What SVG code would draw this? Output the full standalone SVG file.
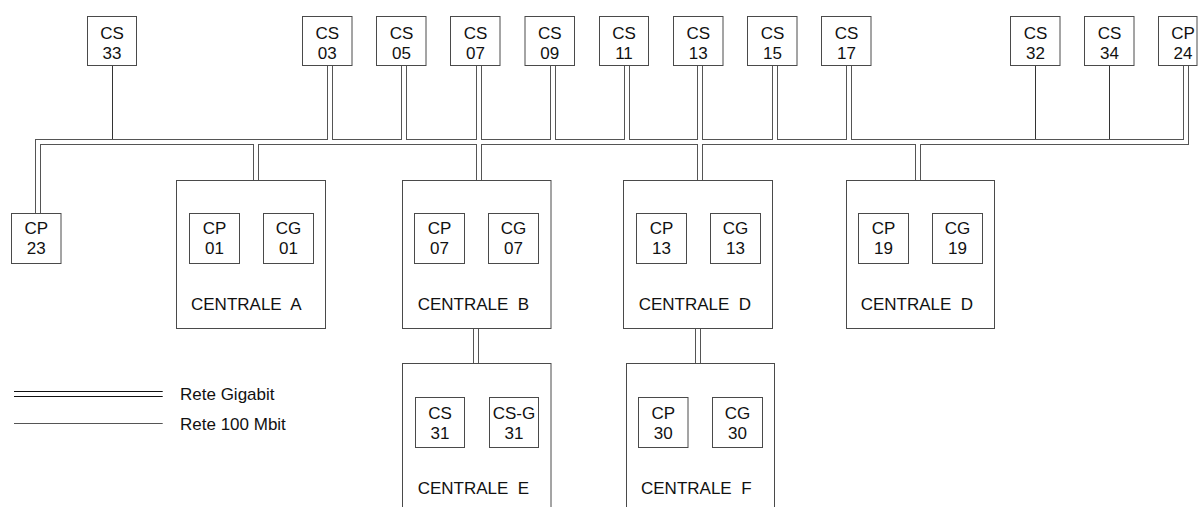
<svg xmlns="http://www.w3.org/2000/svg" width="1200" height="507" viewBox="0 0 1200 507">
<style>
  text { font-family: "Liberation Sans", Arial, sans-serif; font-size: 17px; fill: #111; }
  .c { text-anchor: middle; }
  .lbl { white-space: pre; }
  .box { fill: #fff; stroke: #4a4a4a; stroke-width: 1; }
  .gOut { fill: none; stroke: #555; stroke-width: 6; stroke-linejoin: miter; stroke-linecap: butt; }
  .gIn { fill: none; stroke: #fff; stroke-width: 4; stroke-linejoin: miter; stroke-linecap: butt; }
  .m100 { fill: none; stroke: #333; stroke-width: 1; }
</style>
<rect x="0" y="0" width="1200" height="507" fill="#fff"/>
<defs>
  <path id="gnet" d="M38,240 V142 H1186 V40 M330,40 V142 M404,40 V142 M479,40 V200 M553,40 V142 M627,40 V142 M700,40 V200 M775,40 V142 M849,40 V142 M256,142 V200 M918,142 V200 M476,300 V400 M698,300 V400"/>
</defs>
<g id="connectors">
  <path class="m100" d="M112.5,40 V142 M1035.5,40 V142 M1109.5,40 V142"/>
  <use href="#gnet" class="gOut"/>
  <use href="#gnet" class="gIn"/>
</g>
<g id="CS33"><rect class="box" x="87.5" y="16.5" width="49" height="49"/><text class="c" x="112" y="39">CS</text><text class="c" x="112" y="59.3">33</text></g>
<g id="CS03"><rect class="box" x="302.5" y="16.5" width="49.5" height="49"/><text class="c" x="327.3" y="39">CS</text><text class="c" x="327.3" y="59.3">03</text></g>
<g id="CS05"><rect class="box" x="376.5" y="16.5" width="49.5" height="49"/><text class="c" x="401.5" y="39">CS</text><text class="c" x="401.5" y="59.3">05</text></g>
<g id="CS07"><rect class="box" x="450.5" y="16.5" width="49.5" height="49"/><text class="c" x="475.5" y="39">CS</text><text class="c" x="475.5" y="59.3">07</text></g>
<g id="CS09"><rect class="box" x="525" y="16.5" width="49.5" height="49"/><text class="c" x="549.7" y="39">CS</text><text class="c" x="549.7" y="59.3">09</text></g>
<g id="CS11"><rect class="box" x="599.5" y="16.5" width="49" height="49"/><text class="c" x="624" y="39">CS</text><text class="c" x="624" y="59.3">11</text></g>
<g id="CS13"><rect class="box" x="673.5" y="16.5" width="49.5" height="49"/><text class="c" x="698.2" y="39">CS</text><text class="c" x="698.2" y="59.3">13</text></g>
<g id="CS15"><rect class="box" x="747.5" y="16.5" width="49.5" height="49"/><text class="c" x="772.5" y="39">CS</text><text class="c" x="772.5" y="59.3">15</text></g>
<g id="CS17"><rect class="box" x="821.5" y="16.5" width="49.5" height="49"/><text class="c" x="846.5" y="39">CS</text><text class="c" x="846.5" y="59.3">17</text></g>
<g id="CS32"><rect class="box" x="1010.5" y="16.5" width="49.5" height="49"/><text class="c" x="1035.5" y="39">CS</text><text class="c" x="1035.5" y="59.3">32</text></g>
<g id="CS34"><rect class="box" x="1084.5" y="16.5" width="49.5" height="49"/><text class="c" x="1109.5" y="39">CS</text><text class="c" x="1109.5" y="59.3">34</text></g>
<g id="CP24"><rect class="box" x="1158.5" y="16.5" width="38.5" height="49"/><text class="c" x="1183" y="39">CP</text><text class="c" x="1183" y="59.3">24</text></g>
<g id="CP23"><rect class="box" x="11.5" y="213.5" width="49.5" height="50"/><text class="c" x="36.3" y="234.3">CP</text><text class="c" x="36.3" y="254.3">23</text></g>
<g id="centrale-A">
  <rect class="box" x="176.5" y="180.5" width="149" height="148"/>
  <rect class="box" x="189.5" y="213.5" width="50" height="50"/><text class="c" x="214.5" y="234.3">CP</text><text class="c" x="214.5" y="254.3">01</text>
  <rect class="box" x="263.5" y="213.5" width="50" height="50"/><text class="c" x="288.5" y="234.3">CG</text><text class="c" x="288.5" y="254.3">01</text>
  <text class="lbl" x="191" y="310">CENTRALE  A</text>
</g>
<g id="centrale-B">
  <rect class="box" x="402.5" y="180.5" width="148.5" height="148"/>
  <rect class="box" x="414.5" y="213.5" width="50" height="50"/><text class="c" x="439.5" y="234.3">CP</text><text class="c" x="439.5" y="254.3">07</text>
  <rect class="box" x="488.5" y="213.5" width="50" height="50"/><text class="c" x="513.5" y="234.3">CG</text><text class="c" x="513.5" y="254.3">07</text>
  <text class="lbl" x="417.7" y="310">CENTRALE  B</text>
</g>
<g id="centrale-D1">
  <rect class="box" x="623.5" y="180.5" width="149" height="148"/>
  <rect class="box" x="636.5" y="213.5" width="50" height="50"/><text class="c" x="661.5" y="234.3">CP</text><text class="c" x="661.5" y="254.3">13</text>
  <rect class="box" x="710.5" y="213.5" width="50" height="50"/><text class="c" x="735.5" y="234.3">CG</text><text class="c" x="735.5" y="254.3">13</text>
  <text class="lbl" x="638.7" y="310">CENTRALE  D</text>
</g>
<g id="centrale-D2">
  <rect class="box" x="846.5" y="180.5" width="148" height="148"/>
  <rect class="box" x="858.5" y="213.5" width="50" height="50"/><text class="c" x="883.5" y="234.3">CP</text><text class="c" x="883.5" y="254.3">19</text>
  <rect class="box" x="932.5" y="213.5" width="50" height="50"/><text class="c" x="957.5" y="234.3">CG</text><text class="c" x="957.5" y="254.3">19</text>
  <text class="lbl" x="860.7" y="310">CENTRALE  D</text>
</g>
<g id="centrale-E">
  <rect class="box" x="402.5" y="363.5" width="148.5" height="150"/>
  <rect class="box" x="415.5" y="397.5" width="49" height="50"/><text class="c" x="440" y="418.7">CS</text><text class="c" x="440" y="438.7">31</text>
  <rect class="box" x="489.5" y="397.5" width="49" height="50"/><text class="c" x="514" y="418.7">CS-G</text><text class="c" x="514" y="438.7">31</text>
  <text class="lbl" x="417.7" y="493.5">CENTRALE  E</text>
</g>
<g id="centrale-F">
  <rect class="box" x="626.5" y="363.5" width="148" height="150"/>
  <rect class="box" x="638.5" y="397.5" width="49.5" height="50"/><text class="c" x="663.2" y="418.7">CP</text><text class="c" x="663.2" y="438.7">30</text>
  <rect class="box" x="712.5" y="397.5" width="50" height="50"/><text class="c" x="737.5" y="418.7">CG</text><text class="c" x="737.5" y="438.7">30</text>
  <text class="lbl" x="641" y="493.5">CENTRALE  F</text>
</g>
<g id="legend">
  <path d="M14,391.5 H162.7 M14,396.5 H162.7" stroke="#111" stroke-width="1" fill="none"/>
  <path d="M14,423.5 H162.7" stroke="#555" stroke-width="1" fill="none"/>
  <text x="180" y="400.3">Rete Gigabit</text>
  <text x="180" y="430">Rete 100 Mbit</text>
</g>
</svg>
